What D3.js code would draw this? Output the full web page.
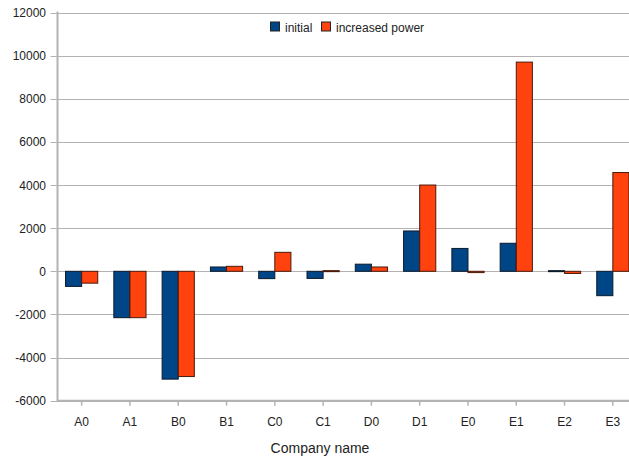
<!DOCTYPE html>
<html><head><meta charset="utf-8">
<script src="https://cdn.jsdelivr.net/npm/d3@7"></script>
<style>body{margin:0;background:#fff}svg{display:block;font-family:"Liberation Sans",Arial,sans-serif}</style>
</head><body>
<script>
const categories = ["A0","A1","B0","B1","C0","C1","D0","D1","E0","E1","E2","E3"];
const initial = [-700,-2150,-5000,200,-340,-330,330,1870,1060,1300,30,-1130];
const increased = [-550,-2150,-4880,230,880,30,200,4000,-60,9700,-100,4580];
const yTicks = [-6000,-4000,-2000,0,2000,4000,6000,8000,10000,12000];
const seriesNames = ["initial","increased power"];
const colors = ["#004586","#ff420e"];

(function(){
const W=629,H=461;
const svg=d3.select("body").append("svg").attr("width",W).attr("height",H);
const pL=57.5, pR=637, pT=12.5, pB=400.7;
const x=d3.scaleBand().domain(categories).range([pL,pR]);
const y=d3.scaleLinear().domain([-6000,12000]).range([pB,pT]);
const bw=x.bandwidth()/3;

svg.append("g").selectAll("line").data(yTicks).join("line")
  .attr("x1",pL-7).attr("x2",W).attr("y1",d=>Math.round(y(d))+0.5).attr("y2",d=>Math.round(y(d))+0.5)
  .attr("stroke","#b3b3b3").attr("stroke-width",1);

svg.append("g").selectAll("text").data(yTicks).join("text")
  .attr("x",46).attr("y",d=>y(d)+4.5).attr("text-anchor","end")
  .attr("font-size",12).attr("fill","#222").text(d=>d);

const series=[initial,increased];
series.forEach((vals,si)=>{
  svg.append("g").selectAll("rect").data(vals).join("rect")
    .attr("x",(d,i)=>x(categories[i])+x.bandwidth()/2-bw+si*bw)
    .attr("y",d=>Math.min(y(d),y(0)))
    .attr("width",bw)
    .attr("height",d=>Math.max(1,Math.abs(y(d)-y(0))))
    .attr("fill",colors[si]).attr("stroke",si===0?"#0a1a2a":"#4a1a0a").attr("stroke-width",1);
});

svg.append("line").attr("x1",pL).attr("x2",pL).attr("y1",pT-1).attr("y2",pB+1)
  .attr("stroke","#b3b3b3").attr("stroke-width",2);
svg.append("line").attr("x1",pL).attr("x2",W).attr("y1",pB).attr("y2",pB)
  .attr("stroke","#b3b3b3").attr("stroke-width",2);
svg.append("g").selectAll("line").data(categories).join("line")
  .attr("x1",d=>x(d)+x.bandwidth()/2).attr("x2",d=>x(d)+x.bandwidth()/2)
  .attr("y1",pB).attr("y2",pB+5).attr("stroke","#b3b3b3").attr("stroke-width",1.5);
svg.append("g").selectAll("text").data(categories).join("text")
  .attr("x",d=>x(d)+x.bandwidth()/2).attr("y",426).attr("text-anchor","middle")
  .attr("font-size",12).attr("fill","#222").text(d=>d);

svg.append("text").attr("x",320).attr("y",453).attr("text-anchor","middle")
  .attr("font-size",14).attr("fill","#222").text("Company name");

const leg=[{x:270,tx:285},{x:321,tx:336}];
seriesNames.forEach((n,i)=>{
  svg.append("rect").attr("x",leg[i].x+0.5).attr("y",22).attr("width",9).attr("height",9)
    .attr("fill",colors[i]).attr("stroke","#222").attr("stroke-width",1);
  svg.append("text").attr("x",leg[i].tx).attr("y",32).attr("font-size",12).attr("fill","#222").text(n);
});
})();
</script>
</body></html>
